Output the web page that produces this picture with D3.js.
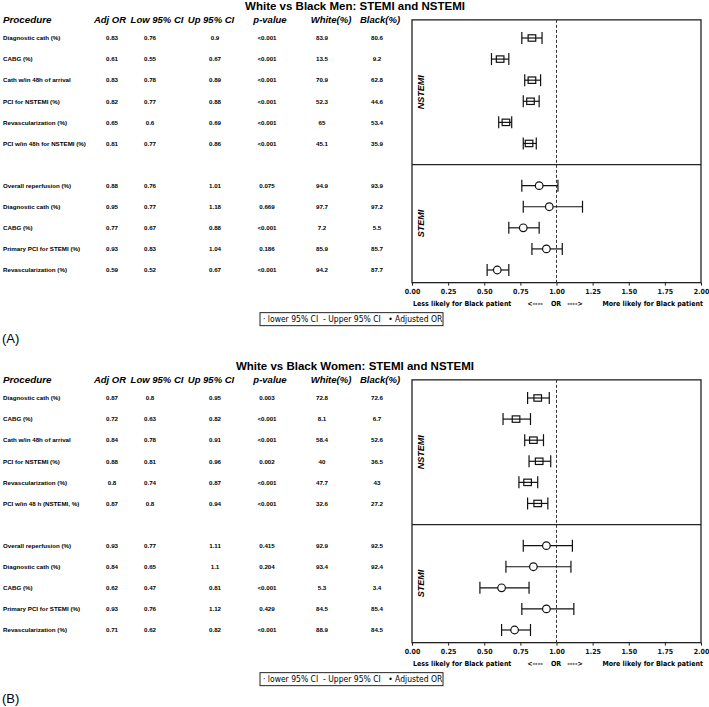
<!DOCTYPE html>
<html>
<head>
<meta charset="utf-8">
<script src="https://cdn.jsdelivr.net/npm/d3@7"></script>
<style>
  body { margin: 0; background: #fff; }
  svg { display: block; }
</style>
</head>
<body>
<div id="chart"></div>
<script>
// ---- data ----
var groups = ["NSTEMI", "STEMI"];
var procGroup = [0, 0, 0, 0, 0, 0, 1, 1, 1, 1, 1];
var headers = ["Adj OR", "Low 95% CI", "Up 95% CI", "p-value", "White(%)", "Black(%)"];
var xTicks = [0, 0.25, 0.5, 0.75, 1, 1.25, 1.5, 1.75, 2];

var menProcedures = ["Diagnostic cath (%)", "CABG (%)", "Cath w/in 48h of arrival", "PCI for NSTEMI (%)",
  "Revascularization (%)", "PCI w/in 48h for NSTEMI (%)", "Overall reperfusion (%)", "Diagnostic cath (%)",
  "CABG (%)", "Primary PCI for STEMI (%)", "Revascularization (%)"];
var menOR = ["0.83", "0.61", "0.83", "0.82", "0.65", "0.81", "0.88", "0.95", "0.77", "0.93", "0.59"];
var menLow = ["0.76", "0.55", "0.78", "0.77", "0.6", "0.77", "0.76", "0.77", "0.67", "0.83", "0.52"];
var menUp = ["0.9", "0.67", "0.89", "0.88", "0.69", "0.86", "1.01", "1.18", "0.88", "1.04", "0.67"];
var menP = ["<0.001", "<0.001", "<0.001", "<0.001", "<0.001", "<0.001", "0.075", "0.669", "<0.001", "0.186", "<0.001"];
var menWhite = ["83.9", "13.5", "70.9", "52.3", "65", "45.1", "94.9", "97.7", "7.2", "85.9", "94.2"];
var menBlack = ["80.6", "9.2", "62.8", "44.6", "53.4", "35.9", "93.9", "97.2", "5.5", "85.7", "87.7"];

var womenProcedures = ["Diagnostic cath (%)", "CABG (%)", "Cath w/in 48h of arrival", "PCI for NSTEMI (%)",
  "Revascularization (%)", "PCI w/in 48 h (NSTEMI, %)", "Overall reperfusion (%)", "Diagnostic cath (%)",
  "CABG (%)", "Primary PCI for STEMI (%)", "Revascularization (%)"];
var womenOR = ["0.87", "0.72", "0.84", "0.88", "0.8", "0.87", "0.93", "0.84", "0.62", "0.93", "0.71"];
var womenLow = ["0.8", "0.63", "0.78", "0.81", "0.74", "0.8", "0.77", "0.65", "0.47", "0.76", "0.62"];
var womenUp = ["0.95", "0.82", "0.91", "0.96", "0.87", "0.94", "1.11", "1.1", "0.81", "1.12", "0.82"];
var womenP = ["0.003", "<0.001", "<0.001", "0.002", "<0.001", "<0.001", "0.415", "0.204", "<0.001", "0.429", "<0.001"];
var womenWhite = ["72.8", "8.1", "58.4", "40", "47.7", "32.6", "92.9", "93.4", "5.3", "84.5", "88.9"];
var womenBlack = ["72.6", "6.7", "52.6", "36.5", "43", "27.2", "92.5", "92.4", "3.4", "85.4", "84.5"];

var W = 709, H = 707;
var svg = d3.select("#chart").append("svg").attr("width", W).attr("height", H);

var tableFont = "'Liberation Sans', Arial, sans-serif";
var axisFont = "'DejaVu Sans Condensed', 'DejaVu Sans', sans-serif";
var colX = [112, 150, 215, 267, 322, 377];
var headX = [110, 157, 211, 270, 331, 380];

var x = d3.scaleLinear().domain([0, 2]).range([412, 701]);
// row index -> y (one blank slot between the two groups)
var y = d3.scaleLinear().domain([0, 11]).range([38, 270]);
function rowPos(i) { return procGroup[i] === 0 ? i : i + 1; }

function drawPanel(dy, title, tag, procs, or, lo, up, p, wh, bl) {
  var g = svg.append("g").attr("transform", "translate(0," + dy + ")");

  g.append("text").attr("x", 355).attr("y", 10)
    .attr("text-anchor", "middle")
    .style("font", "bold 11.5px " + tableFont)
    .text(title);

  // table header
  g.append("text").attr("x", 3).attr("y", 23)
    .style("font", "italic bold 9.8px " + tableFont).text("Procedure");
  g.selectAll(".hd").data(headers).enter().append("text")
    .attr("x", function(d, i) { return headX[i]; })
    .attr("y", 23)
    .attr("text-anchor", "middle")
    .style("font", "italic bold 9.5px " + tableFont)
    .text(function(d) { return d; });

  // table rows
  var cols = [or, lo, up, p, wh, bl];
  procs.forEach(function(name, i) {
    var yy = y(rowPos(i)) + 2.3;
    g.append("text").attr("x", 3).attr("y", yy)
      .style("font", "bold 6.2px " + tableFont).text(name);
    cols.forEach(function(c, j) {
      g.append("text").attr("x", colX[j]).attr("y", yy)
        .attr("text-anchor", "middle")
        .style("font", "bold 6.2px " + tableFont).text(c[i]);
    });
  });

  // plot box
  var top = y(-0.86), bot = y(11.6), mid = y(6);
  g.append("rect").attr("x", x(0)).attr("y", top)
    .attr("width", x(2) - x(0)).attr("height", bot - top)
    .attr("fill", "none").attr("stroke", "#222").attr("stroke-width", 1.3);
  g.append("line").attr("x1", x(0)).attr("x2", x(2)).attr("y1", mid).attr("y2", mid)
    .attr("stroke", "#222").attr("stroke-width", 1.3);
  g.append("line").attr("x1", x(1)).attr("x2", x(1)).attr("y1", top).attr("y2", bot)
    .attr("stroke", "#333").attr("stroke-width", 1).attr("stroke-dasharray", "3,2");

  // group labels
  [[0, (top + mid) / 2], [1, (mid + bot) / 2]].forEach(function(d) {
    g.append("text")
      .attr("transform", "translate(424," + d[1] + ") rotate(-90)")
      .attr("text-anchor", "middle")
      .style("font", "italic bold 9px " + tableFont)
      .text(groups[d[0]]);
  });

  // error bars
  procs.forEach(function(name, i) {
    var yy = y(rowPos(i));
    var x0 = x(+lo[i]), x1 = x(+up[i]), xm = x(+or[i]);
    var bar = g.append("g").attr("stroke", "#111").attr("stroke-width", 1.2);
    bar.append("line").attr("x1", x0).attr("x2", x1).attr("y1", yy).attr("y2", yy);
    bar.append("line").attr("x1", x0).attr("x2", x0).attr("y1", yy - 6).attr("y2", yy + 6);
    bar.append("line").attr("x1", x1).attr("x2", x1).attr("y1", yy - 6).attr("y2", yy + 6);
    if (procGroup[i] === 0) {
      bar.append("rect").attr("x", xm - 3.8).attr("y", yy - 3.2)
        .attr("width", 7.6).attr("height", 6.4).attr("fill", "none");
    } else {
      bar.append("circle").attr("cx", xm).attr("cy", yy).attr("r", 3.8).attr("fill", "#fff");
    }
  });

  // x axis
  var ax = g.append("g").attr("transform", "translate(0," + bot + ")")
    .call(d3.axisBottom(x).tickValues(xTicks).tickFormat(d3.format(".2f")).tickSize(3).tickPadding(3));
  ax.select(".domain").remove();
  ax.selectAll("line").attr("stroke", "#222");
  ax.selectAll("text").style("font", "bold 7px " + axisFont).attr("fill", "#111");

  var ay = bot + 23;
  var axStyle = "bold 7px " + axisFont;
  g.append("text").attr("x", 413).attr("y", ay).style("font", axStyle)
    .text("Less likely for Black patient");
  g.append("text").attr("x", 535).attr("y", ay).attr("text-anchor", "middle")
    .style("font", axStyle).text("<----");
  g.append("text").attr("x", 556).attr("y", ay).attr("text-anchor", "middle")
    .style("font", axStyle).text("OR");
  g.append("text").attr("x", 575).attr("y", ay).attr("text-anchor", "middle")
    .style("font", axStyle).text("---->");
  g.append("text").attr("x", 703).attr("y", ay).attr("text-anchor", "end")
    .style("font", axStyle).text("More likely for Black patient");

  // legend
  var ly = bot + 30;
  g.append("rect").attr("x", 260).attr("y", ly).attr("width", 183).attr("height", 13)
    .attr("fill", "#fff").attr("stroke", "#222").attr("stroke-width", 1);
  g.append("text").attr("x", 263).attr("y", ly + 9.5).attr("xml:space", "preserve")
    .style("font", "8.5px 'DejaVu Sans Condensed', 'DejaVu Sans', sans-serif")
    .text("\u00b7 lower 95% CI  - Upper 95% CI   \u2022 Adjusted OR");

  // panel tag
  g.append("text").attr("x", 2).attr("y", bot + 60)
    .style("font", "13px " + tableFont).text(tag);
}

drawPanel(0, "White vs Black Men: STEMI and NSTEMI", "(A)",
  menProcedures, menOR, menLow, menUp, menP, menWhite, menBlack);
drawPanel(360, "White vs Black Women: STEMI and NSTEMI", "(B)",
  womenProcedures, womenOR, womenLow, womenUp, womenP, womenWhite, womenBlack);
</script>
</body>
</html>
